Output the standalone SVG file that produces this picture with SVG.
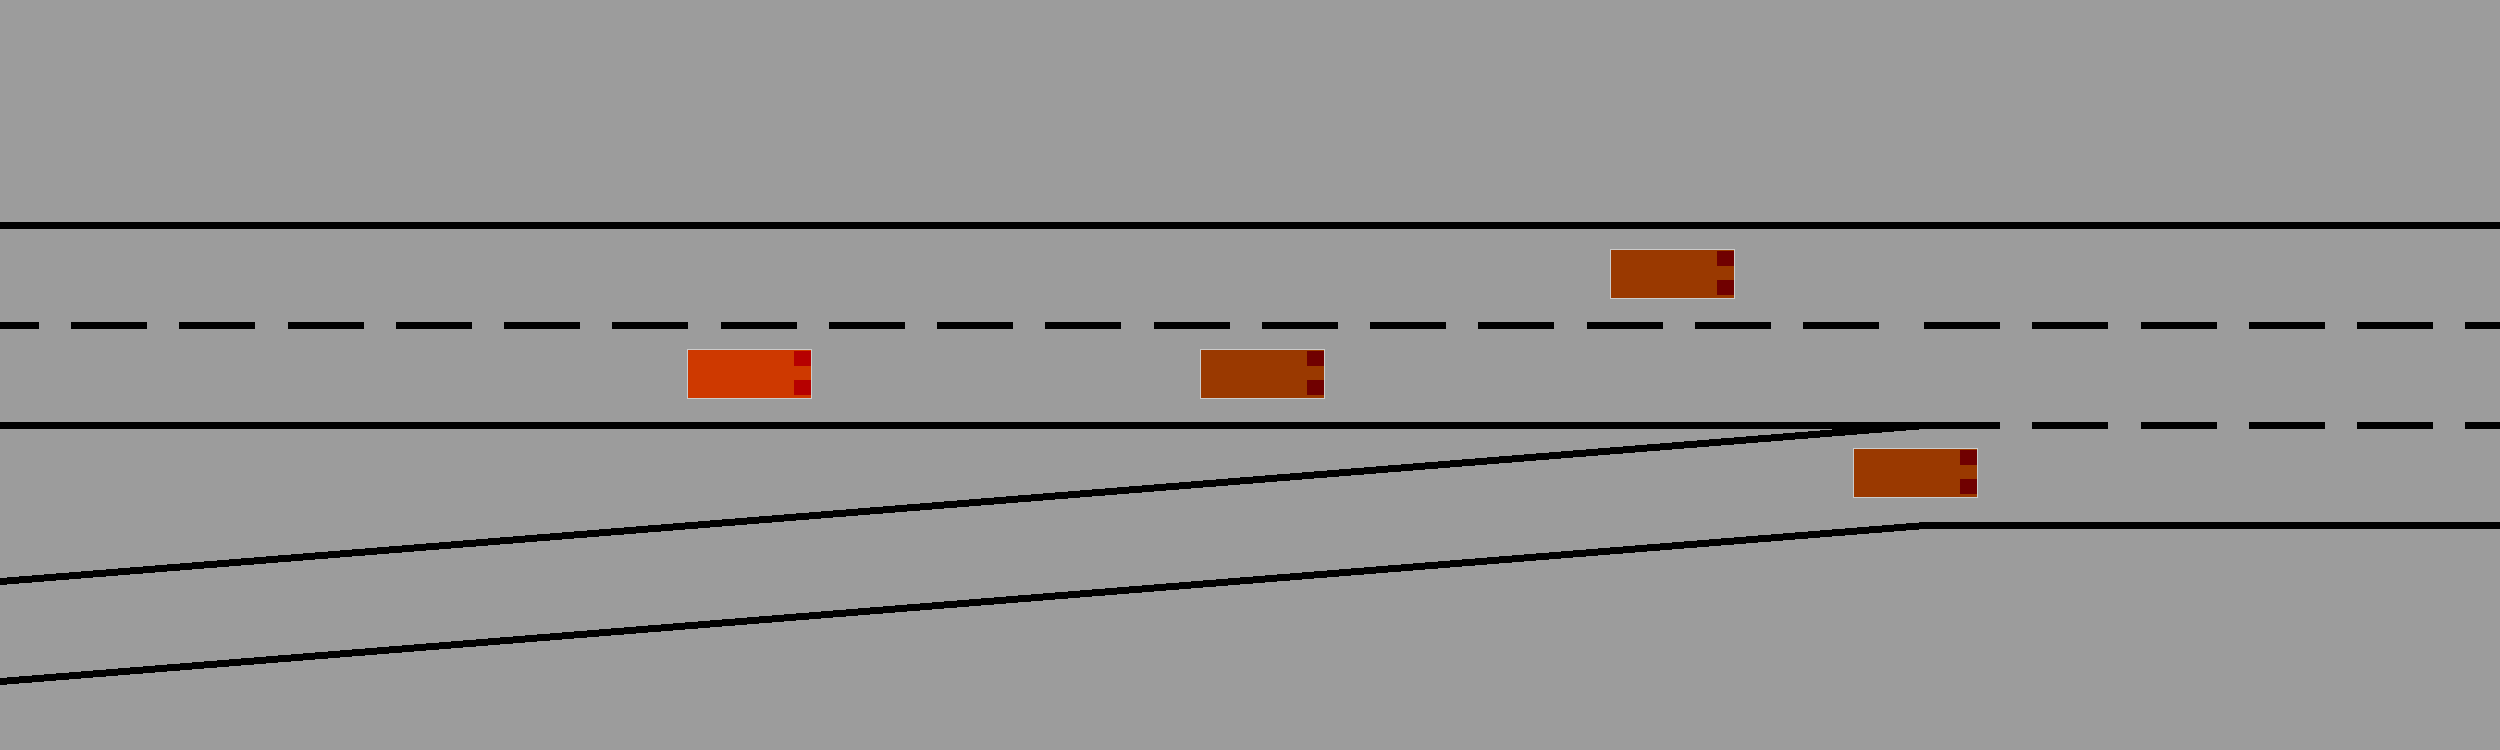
<svg xmlns="http://www.w3.org/2000/svg" width="2500" height="750" viewBox="0 0 2500 750" shape-rendering="crispEdges">
<style>
.road{fill:none;stroke:#000;stroke-width:7}
.ramp{fill:#000;stroke:none}
.d1{stroke-dasharray:76 32.25;stroke-dashoffset:37.25}
.d2{stroke-dasharray:76 32.25;stroke-dashoffset:0}
.body{stroke:#ccc;stroke-width:1}
.light{width:17px;height:15px}
.ego{fill:#ce3900}
.other{fill:#9a3900}
.le{fill:#b60000}
.lo{fill:#700000}
</style>
<rect width="2500" height="750" fill="#9c9c9c"/>
<g id="connectors">
<path class="road" d="M0 225.5H2500"/>
<path class="road d1" d="M0 325.5H1890"/>
<path class="road d2" d="M1924 325.5H2500"/>
<path class="road" d="M0 425.5H1924"/>
<path class="road d2" d="M1924 425.5H2500"/>
<path class="road" d="M1919 525.5H2500"/>
<path class="ramp" d="M0 578.07L1925 422V429L0 585.07Z"/>
<path class="ramp" d="M0 678.07L1925 522V529L0 685.07Z"/>
</g>
<g id="car-ego"><rect class="body ego" x="687.5" y="349.5" width="124" height="49"/><rect class="light le" x="794" y="351"/><rect class="light le" x="794" y="380"/></g>
<g id="car-1"><rect class="body other" x="1200.5" y="349.5" width="124" height="49"/><rect class="light lo" x="1307" y="351"/><rect class="light lo" x="1307" y="380"/></g>
<g id="car-2"><rect class="body other" x="1610.5" y="249.5" width="124" height="49"/><rect class="light lo" x="1717" y="251"/><rect class="light lo" x="1717" y="280"/></g>
<g id="car-3"><rect class="body other" x="1853.5" y="448.5" width="124" height="49"/><rect class="light lo" x="1960" y="450"/><rect class="light lo" x="1960" y="479"/></g>
</svg>
